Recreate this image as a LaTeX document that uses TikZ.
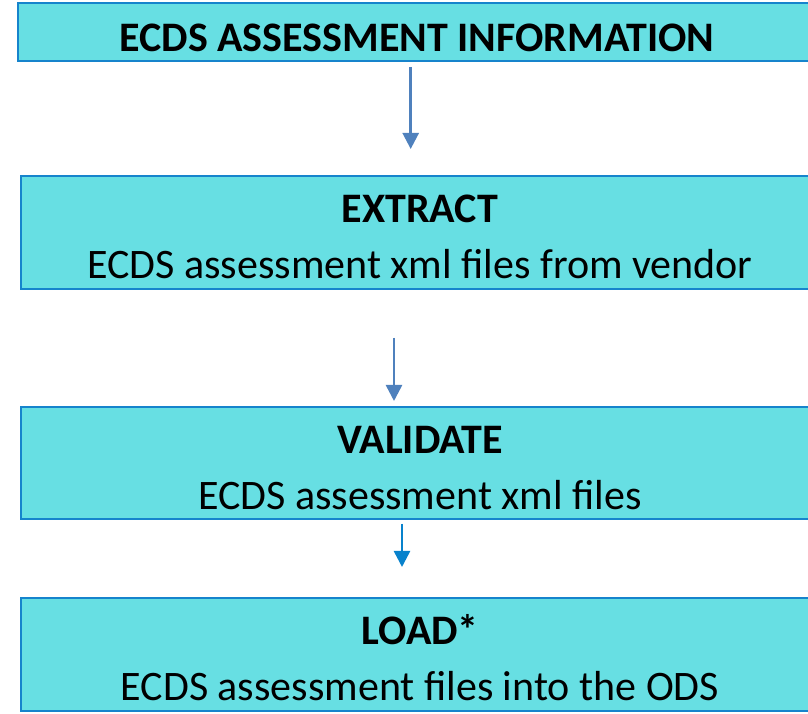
\documentclass[tikz,border=0pt]{standalone}
\usepackage{fontspec}
\setmainfont{Carlito}
\usetikzlibrary{arrows.meta}
\definecolor{boxfill}{RGB}{103,223,227}
\definecolor{boxline}{RGB}{22,132,204}
\definecolor{arrA}{RGB}{79,129,189}
\definecolor{arrB}{RGB}{8,130,204}
\tikzset{
  boxnode/.style={draw=boxline, fill=boxfill, line width=2pt, inner sep=0pt},
  txt/.style={anchor=base, inner sep=0pt, font=\fontsize{42}{50}\selectfont},
  conn/.style={line width=2.6pt, -{Triangle[width=16pt,length=16pt]}},
}
\begin{document}
\begin{tikzpicture}[x=1pt,y=1pt]
\useasboundingbox (0,0) rectangle (808,714);
\clip (0,0) rectangle (808,714);
% boxes
\node[boxnode, minimum width=805pt, minimum height=58pt, anchor=south west] (b1) at (17,652) {};
\node[boxnode, minimum width=805pt, minimum height=113pt, anchor=south west] (b2) at (20,424) {};
\node[boxnode, minimum width=805pt, minimum height=112pt, anchor=south west] (b3) at (20,194) {};
\node[boxnode, minimum width=805pt, minimum height=113pt, anchor=south west] (b4) at (20,2) {};
% texts
\node[txt] (t1) at (417,662) {\textbf{ECDS ASSESSMENT INFORMATION}};
\node[txt] (t2a) at (420,491) {\textbf{EXTRACT}};
\node[txt] (t2b) at (420,435) {ECDS assessment xml files from vendor};
\node[txt] (t3a) at (420,260) {\textbf{VALIDATE}};
\node[txt] (t3b) at (420,204) {ECDS assessment xml files};
\node[txt] (t4a) at (420,69) {\textbf{LOAD*}};
\node[txt] (t4b) at (420,13) {ECDS assessment files into the ODS};
% arrows
\coordinate (a1s) at (410.7,647);
\coordinate (a1e) at (410.7,565);
\coordinate (a2s) at (394,376);
\coordinate (a2e) at (394,313);
\coordinate (a3s) at (402,190);
\coordinate (a3e) at (402,147);
\draw[conn, draw=arrA, fill=arrA] (a1s) -- (a1e);
\draw[conn, draw=arrA, fill=arrA] (a2s) -- (a2e);
\draw[conn, draw=arrB, fill=arrB] (a3s) -- (a3e);
\end{tikzpicture}
\end{document}
